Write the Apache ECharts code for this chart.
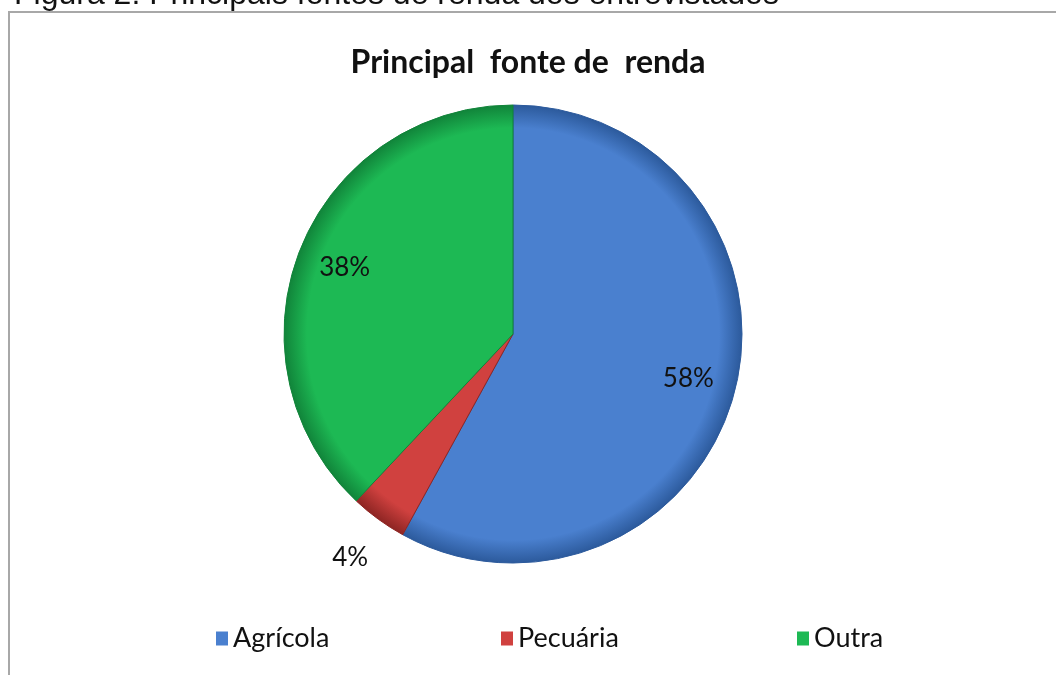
<!DOCTYPE html>
<html><head><meta charset="utf-8">
<script src="https://cdn.jsdelivr.net/npm/echarts@6/dist/echarts.min.js"></script>
<style>html,body{margin:0;padding:0;background:#fff}#c{width:1056px;height:675px}</style>
</head><body><div id="c"></div>
<script>
const categories = ['Agrícola', 'Pecuária', 'Outra'];
const values = [58, 4, 38];
const colors = ['#4a80cf', '#d0413f', '#1db954'];
const edgeColors = ['#2c5a9c', '#8e2523', '#11843a'];
const caption = 'Figura 2: Principais fontes de renda dos entrevistados';
const titleText = 'Principal  fonte de  renda';

const chart = echarts.init(document.getElementById('c'));
const center = [513, 334];
const R = 229;
const mainData = categories.map((n, i) => ({
  name: n, value: values[i],
  itemStyle: {
    color: {type: 'radial', x: center[0], y: center[1], r: R, global: true,
      colorStops: [{offset: 0, color: colors[i]}, {offset: 0.9, color: colors[i]}, {offset: 1, color: edgeColors[i]}]},
    borderColor: edgeColors[i], borderWidth: 1
  }
}));
const labelFont = {fontFamily: 'Lato', fontSize: 26, color: '#111'};
const innerData = categories.map((n, i) => ({name: n, value: values[i], label: {show: n !== 'Pecuária'}}));
const outerData = categories.map((n, i) => ({name: n, value: values[i], label: {show: n === 'Pecuária'}}));
const legendBase = {orient: 'horizontal', top: 620, itemWidth: 12, itemHeight: 14, itemGap: 5,
  icon: 'rect', textStyle: {fontFamily: 'Lato', fontSize: 27, color: '#111'}, selectedMode: false};
const legendItem = (i) => [{name: categories[i], itemStyle: {color: colors[i], borderWidth: 0}}];
chart.setOption({
  animation: false,
  color: colors,
  graphic: [
    {type: 'polyline', shape: {points: [[9, 675], [9, 12], [1056, 12]]}, style: {stroke: '#a8a8a8', lineWidth: 2, fill: null}},
    {type: 'text', left: 14, top: -21, style: {text: caption, font: '32px "Liberation Sans"', fill: '#111'}}
  ],
  title: {text: titleText, left: 'center', top: 42, textStyle: {fontFamily: 'Lato', fontWeight: 'bold', fontSize: 32, color: '#111'}},
  legend: [
    Object.assign({}, legendBase, {left: 211, data: legendItem(0)}),
    Object.assign({}, legendBase, {left: 496, data: legendItem(1)}),
    Object.assign({}, legendBase, {left: 792, data: legendItem(2)})
  ],
  series: [
    {type: 'pie', center: center, radius: [0, R], startAngle: 90, clockwise: true,
      data: mainData, label: {show: false}, labelLine: {show: false}, silent: true},
    {type: 'pie', center: center, radius: [127, R], startAngle: 90, clockwise: true,
      data: innerData, itemStyle: {color: 'rgba(0,0,0,0)'}, silent: true,
      label: Object.assign({position: 'inside', formatter: '{d}%'}, labelFont), labelLine: {show: false}},
    {type: 'pie', center: center, radius: [R + 6, 313], startAngle: 90, clockwise: true,
      data: outerData, itemStyle: {color: 'rgba(0,0,0,0)'}, silent: true,
      label: Object.assign({position: 'inside', formatter: '{d}%'}, labelFont), labelLine: {show: false}}
  ]
});
</script></body></html>
